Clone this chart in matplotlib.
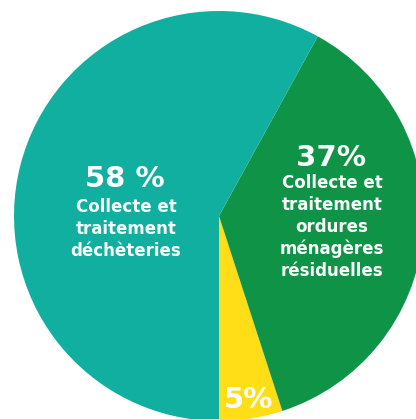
import matplotlib
matplotlib.use("Agg")
import matplotlib.pyplot as plt

categories = ["Autres",
              "Collecte et traitement ordures ménagères résiduelles",
              "Collecte et traitement déchèteries"]
values = [5, 37, 58]
pct_labels = ["5%", "37%", "58 %"]
desc_labels = ["", "Collecte et\ntraitement\nordures\nménagères\nrésiduelles",
               "Collecte et\ntraitement\ndéchèteries"]
colors = ["#FFDD17", "#0F9447", "#10AFA0"]

W, H = 416, 419
fig = plt.figure(figsize=(W / 100, H / 100), dpi=100)
ax = fig.add_axes([0, 0, 1, 1])

cx, cy, r = 219, H - 216, 205
ax.pie(values, colors=colors, startangle=-90, counterclock=True,
       center=(cx, cy), radius=r, frame=True,
       wedgeprops=dict(linewidth=0))
ax.set_xlim(0, W)
ax.set_ylim(0, H)
ax.set_aspect("equal")
ax.axis("off")

fam = ["DejaVu Sans"]
# percentage texts
pct_pos = [(248, 408), (331, 166), (125, 187)]
for lab, (x, y) in zip(pct_labels, pct_pos):
    ax.text(x, H - y, lab, ha="center", va="baseline", color="white",
            fontsize=21, fontweight="bold", family=fam)

desc_pos = [None, (332, 188), (126, 212)]
for lab, pos in zip(desc_labels, desc_pos):
    if not lab:
        continue
    x, y = pos
    for i, line in enumerate(lab.split("\n")):
        ax.text(x, H - (y + 22 * i), line, ha="center", va="baseline",
                color="white", fontsize=12, fontweight="bold", family=fam)

fig.savefig("out.png", dpi=100)
